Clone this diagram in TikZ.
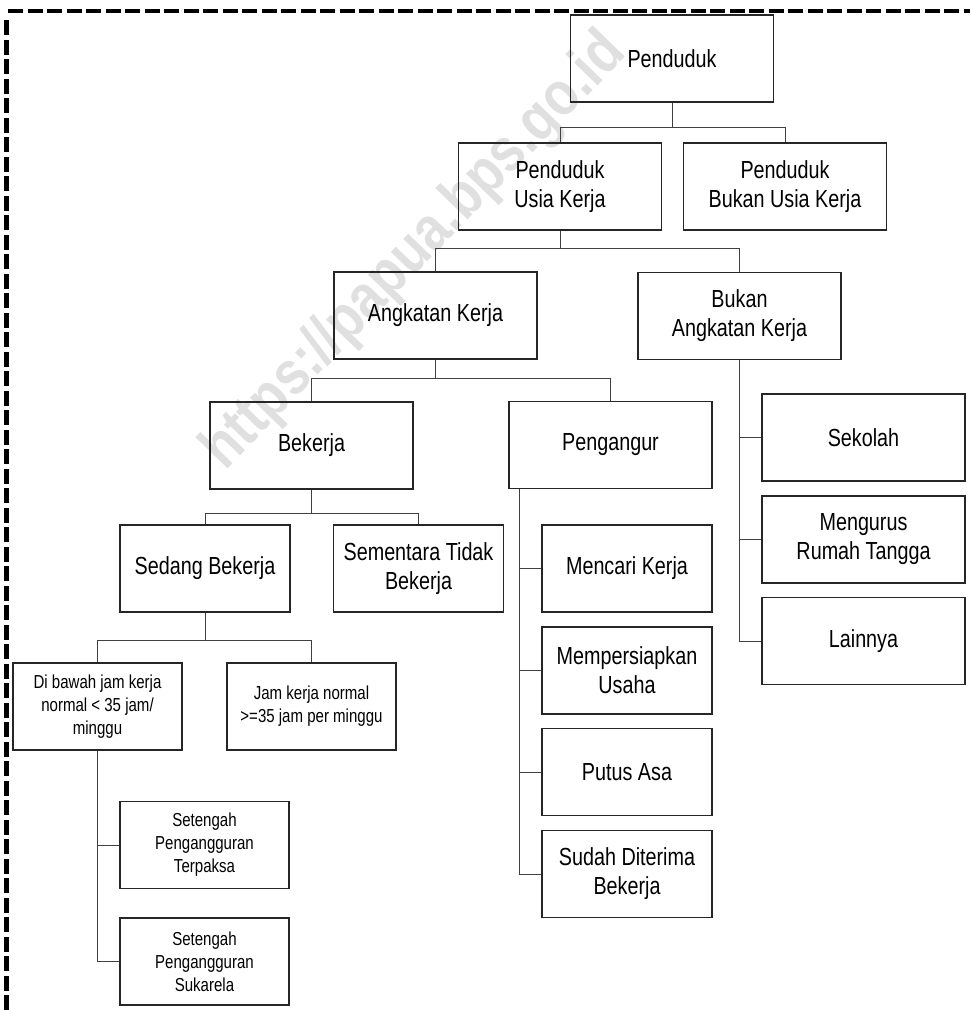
\documentclass[tikz,border=0pt]{standalone}
\usepackage{fontspec}
\setmainfont{Liberation Sans}[FakeStretch=0.8]
\newfontfamily\wmfont{Liberation Sans}[FakeStretch=0.85]
\begin{document}
\begin{tikzpicture}[x=1pt,y=-1pt,
  box/.style={draw=black!85, line width=1.1pt, align=center, inner sep=0pt,
    minimum width=203pt, minimum height=87pt, font=\fontsize{24.7}{29}\selectfont},
  nbox/.style={box, minimum width=170pt},
  sbox/.style={box, minimum width=169pt, font=\fontsize{18.8}{23}\selectfont},
  conn/.style={draw=black!75, line width=1pt},
  border/.style={line width=4.5pt, dash pattern=on 15pt off 4.5pt}]
\useasboundingbox (0,0) rectangle (970,1010);
% watermark
\node[rotate=46, text=black!12, font=\wmfont\bfseries\fontsize{62}{62}\selectfont] (wm) at (415,252) {https://papua.bps.go.id};
% border
\coordinate (bl) at (6.5,1010);
\coordinate (tl) at (6.5,17);
\coordinate (tl2) at (8,11);
\coordinate (tr) at (970,11);
\draw[border] (bl) -- (tl);
\draw[border] (tl2) -- (tr);
% nodes
\node[box] (pend) at (672,58.5) {Penduduk};
\node[box] (puk) at (560,186.5) {Penduduk\\Usia Kerja};
\node[box] (pbuk) at (785,186.5) {Penduduk\\Bukan Usia Kerja};
\node[box] (ak) at (435.5,315.5) {Angkatan Kerja};
\node[box] (bak) at (739.5,316) {Bukan\\Angkatan Kerja};
\node[box] (bek) at (311.5,445.5) {Bekerja};
\node[box] (peng) at (610.5,445) {Pengangur};
\node[nbox] (sedang) at (205,568.5) {Sedang Bekerja};
\node[nbox] (sement) at (418.5,568.5) {Sementara Tidak\\Bekerja};
\node[sbox] (dibawah) at (97.5,706.5) {Di bawah jam kerja\\normal < 35 jam/\\minggu};
\node[sbox] (jam) at (311.5,706.5) {Jam kerja normal\\>=35 jam per minggu};
\node[sbox] (set1) at (204.5,845) {Setengah\\Pengangguran\\Terpaksa};
\node[sbox] (set2) at (204.5,961.5) {Setengah\\Pengangguran\\Sukarela};
\node[nbox] (mencari) at (627,568.5) {Mencari Kerja};
\node[nbox] (memp) at (627,670.5) {Mempersiapkan\\Usaha};
\node[nbox] (putus) at (627,772) {Putus Asa};
\node[nbox] (sudah) at (627,874) {Sudah Diterima\\Bekerja};
\node[box] (sekolah) at (863.5,437.5) {Sekolah};
\node[box] (mengurus) at (863.5,539.5) {Mengurus\\Rumah Tangga};
\node[box] (lain) at (863.5,641) {Lainnya};
% connectors
\coordinate (j1) at (672,127);
\draw[conn] (pend.south) -- (j1) -| (puk.north);
\draw[conn] (j1) -| (pbuk.north);
\coordinate (j2) at (560,248.5);
\draw[conn] (puk.south) -- (j2) -| (ak.north);
\draw[conn] (j2) -| (bak.north);
\coordinate (j3) at (435.5,378);
\draw[conn] (ak.south) -- (j3) -| (bek.north);
\draw[conn] (j3) -| (peng.north);
\coordinate (j4) at (311.5,513);
\draw[conn] (bek.south) -- (j4) -| (sedang.north);
\draw[conn] (j4) -| (sement.north);
\coordinate (j5) at (205,640);
\draw[conn] (sedang.south) -- (j5) -| (dibawah.north);
\draw[conn] (j5) -| (jam.north);
\draw[conn] (dibawah.south) |- (set1.west);
\draw[conn] (dibawah.south) |- (set2.west);
\coordinate (pv) at ([xshift=11pt]peng.south west);
\draw[conn] (pv) |- (mencari.west);
\draw[conn] (pv) |- (memp.west);
\draw[conn] (pv) |- (putus.west);
\draw[conn] (pv) |- (sudah.west);
\draw[conn] (bak.south) |- (sekolah.west);
\draw[conn] (bak.south) |- (mengurus.west);
\draw[conn] (bak.south) |- (lain.west);
\end{tikzpicture}
\end{document}
